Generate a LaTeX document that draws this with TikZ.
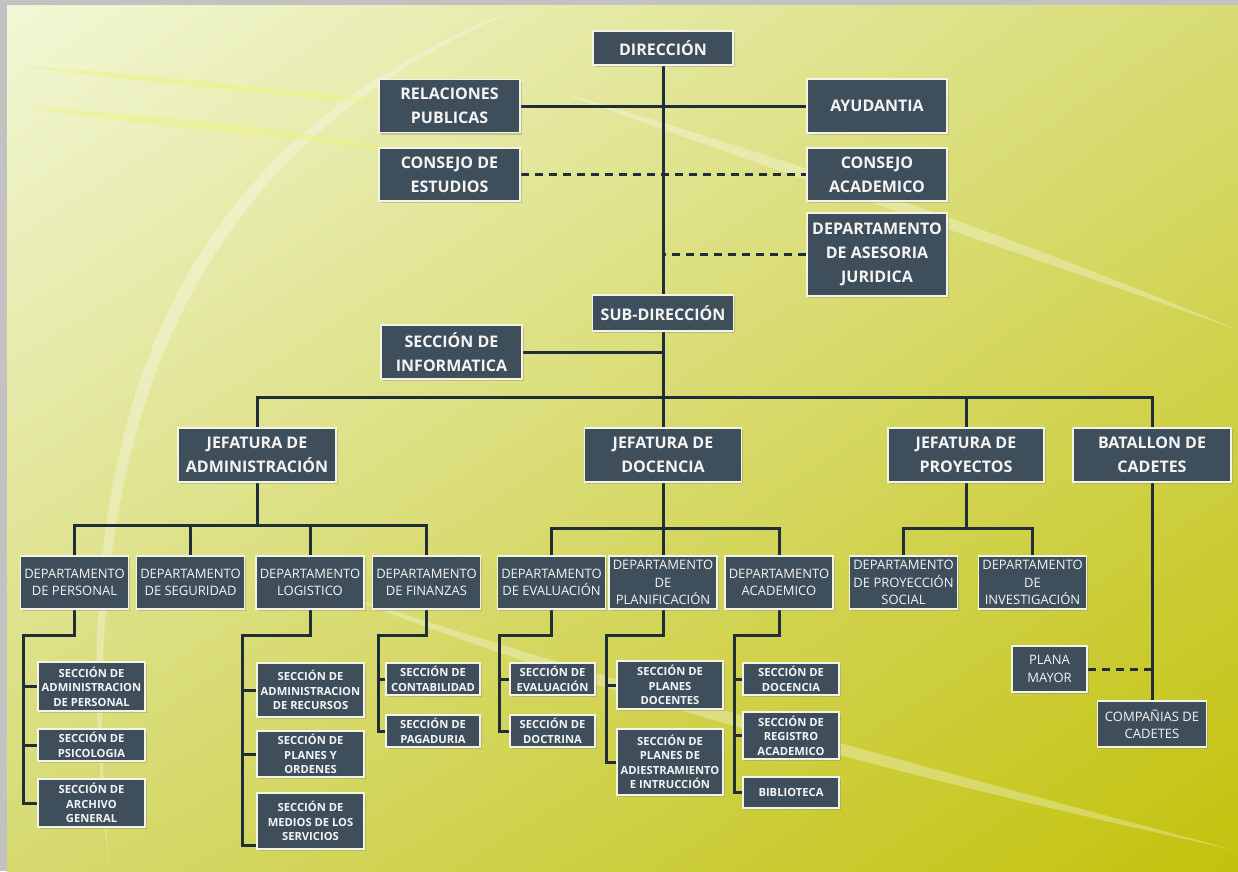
\documentclass[tikz,border=0pt]{standalone}
\usepackage{fontspec}
\setmainfont{Open Sans}
\usetikzlibrary{shadows, shadings, calc}

\definecolor{fondoA}{HTML}{F2F7D6}
\definecolor{fondoB}{HTML}{D8DC74}
\definecolor{fondoC}{HTML}{D6DA70}
\definecolor{fondoD}{HTML}{C3C20C}
\definecolor{marco}{HTML}{C2C2C2}
\definecolor{fondocaja}{HTML}{3E4F5B}
\definecolor{bordecaja}{HTML}{F4F4E6}
\definecolor{textocaja}{HTML}{F4F4F4}
\definecolor{colorlinea}{HTML}{1F2E39}
\definecolor{brillocolor}{HTML}{EEF47A}

\pgfdeclarelayer{fondo}
\pgfdeclarelayer{lineas}
\pgfsetlayers{fondo,lineas,main}

\tikzset{
  caja/.style={draw=bordecaja, line width=1.4pt, fill=fondocaja, text=textocaja,
    align=center, inner sep=0pt,
    drop shadow={shadow xshift=1.5pt, shadow yshift=-2pt, opacity=0.35}},
  jefe/.style={caja, minimum height=54pt, font=\fontsize{16}{24}\selectfont\bfseries},
  depto/.style={caja, minimum width=108pt, minimum height=53pt, font=\fontsize{13}{17.5}\selectfont},
  seccion/.style={caja, minimum width=107pt, font=\fontsize{11.2}{14.5}\selectfont\bfseries},
  linea/.style={draw=colorlinea, line width=3pt, line cap=rect},
  punteada/.style={draw=colorlinea, line width=3pt, dash pattern=on 8pt off 6pt},
  brillo/.style={fill=brillocolor, opacity=0.45},
  brilloclaro/.style={fill=white, opacity=0.3},
}

\begin{document}
\begin{tikzpicture}[x=1pt, y=-1pt]
  \useasboundingbox (0,0) rectangle (1238,871);

  % fondo
  \begin{pgfonlayer}{fondo}
    \fill[marco] (0,0) rectangle (1238,871);
    \shade[upper left=fondoA, upper right=fondoB, lower left=fondoC, lower right=fondoD]
      (7,5) rectangle (1238,871);
    \fill[brilloclaro] (520,8) .. controls (250,110) and (40,330) .. (110,871)
      .. controls (58,330) and (266,118) .. (520,8) -- cycle;
    \fill[brillo] (20,66) .. controls (150,74) and (280,88) .. (480,112)
      .. controls (280,96) and (150,84) .. (20,66) -- cycle;
    \fill[brillo] (20,107) .. controls (150,114) and (280,126) .. (460,160)
      .. controls (280,136) and (150,126) .. (20,107) -- cycle;
    \fill[brilloclaro] (560,92) .. controls (760,150) and (1000,230) .. (1238,330)
      .. controls (1000,246) and (760,166) .. (560,92) -- cycle;
    \fill[brilloclaro] (330,590) .. controls (600,680) and (900,760) .. (1234,850)
      .. controls (900,776) and (600,698) .. (330,590) -- cycle;
  \end{pgfonlayer}

  % direccion y asesores
  \node[jefe, minimum width=140pt, minimum height=34pt] (direccion) at (663,48) {DIRECCIÓN};
  \node[jefe, minimum width=141pt, minimum height=53pt] (relaciones) at (449.5,106) {RELACIONES\\PUBLICAS};
  \node[jefe, minimum width=140pt, minimum height=54pt] (ayudantia) at (877,106) {AYUDANTIA};
  \node[jefe, minimum width=141pt, minimum height=53pt] (cestudios) at (449.5,174.5) {CONSEJO DE\\ESTUDIOS};
  \node[jefe, minimum width=140pt, minimum height=53pt] (cacademico) at (877,174.5) {CONSEJO\\ACADEMICO};
  \node[jefe, minimum width=140pt, minimum height=83pt] (asesoria) at (877,254.5) {DEPARTAMENTO\\DE ASESORIA\\JURIDICA};
  \node[jefe, minimum width=141pt, minimum height=36pt] (subdir) at (663,313) {SUB-DIRECCIÓN};
  \node[jefe, minimum width=141pt, minimum height=54pt] (informatica) at (451.5,352) {SECCIÓN DE\\INFORMATICA};

  % jefaturas
  \node[jefe, minimum width=158pt] (jadmin) at (257,455) {JEFATURA DE\\ADMINISTRACIÓN};
  \node[jefe, minimum width=157pt] (jdocencia) at (663,455) {JEFATURA DE\\DOCENCIA};
  \node[jefe, minimum width=156pt] (jproyectos) at (966,455) {JEFATURA DE\\PROYECTOS};
  \node[jefe, minimum width=158pt] (batallon) at (1152,455) {BATALLON DE\\CADETES};

  % departamentos
  \node[depto] (dpersonal) at (74.5,582.5) {DEPARTAMENTO\\DE PERSONAL};
  \node[depto] (dseguridad) at (190.5,582.5) {DEPARTAMENTO\\DE SEGURIDAD};
  \node[depto] (dlogistico) at (310,582.5) {DEPARTAMENTO\\LOGISTICO};
  \node[depto] (dfinanzas) at (426.5,582.5) {DEPARTAMENTO\\DE FINANZAS};
  \node[depto] (devaluacion) at (551.5,582.5) {DEPARTAMENTO\\DE EVALUACIÓN};
  \node[depto] (dplanificacion) at (663,582.5) {DEPARTAMENTO\\DE\\PLANIFICACIÓN};
  \node[depto] (dacademico) at (779,582.5) {DEPARTAMENTO\\ACADEMICO};
  \node[depto] (dproyeccion) at (903.5,582.5) {DEPARTAMENTO\\DE PROYECCIÓN\\SOCIAL};
  \node[depto] (dinvestigacion) at (1032.5,582.5) {DEPARTAMENTO\\DE\\INVESTIGACIÓN};

  % secciones
  \node[seccion, minimum height=49pt] (sadmper) at (91.5,686.5) {SECCIÓN DE\\ADMINISTRACION\\DE PERSONAL};
  \node[seccion, minimum height=32pt] (spsicologia) at (91.5,745) {SECCIÓN DE\\PSICOLOGIA};
  \node[seccion, minimum height=48pt] (sarchivo) at (91.5,803) {SECCIÓN DE\\ARCHIVO\\GENERAL};
  \node[seccion, minimum height=54pt] (sadmrec) at (310.5,690) {SECCIÓN DE\\ADMINISTRACION\\DE RECURSOS};
  \node[seccion, minimum height=46pt] (splanes) at (310.5,754) {SECCIÓN DE\\PLANES Y\\ORDENES};
  \node[seccion, minimum height=56pt] (smedios) at (310.5,821) {SECCIÓN DE\\MEDIOS DE LOS\\SERVICIOS};
  \node[seccion, minimum width=94pt, minimum height=32pt] (scontab) at (433,679) {SECCIÓN DE\\CONTABILIDAD};
  \node[seccion, minimum width=94pt, minimum height=32pt] (spagad) at (433,731) {SECCIÓN DE\\PAGADURIA};
  \node[seccion, minimum width=85pt, minimum height=32pt] (seval) at (552.5,679) {SECCIÓN DE\\EVALUACIÓN};
  \node[seccion, minimum width=85pt, minimum height=32pt] (sdoctrina) at (552.5,731) {SECCIÓN DE\\DOCTRINA};
  \node[seccion, minimum width=106pt, minimum height=48pt] (splandoc) at (670,685) {SECCIÓN DE\\PLANES\\DOCENTES};
  \node[seccion, minimum width=106pt, minimum height=66pt] (sadiest) at (670,762) {SECCIÓN DE\\PLANES DE\\ADIESTRAMIENTO\\E INTRUCCIÓN};
  \node[seccion, minimum width=96pt, minimum height=32pt] (sdocencia) at (791,679) {SECCIÓN DE\\DOCENCIA};
  \node[seccion, minimum width=96pt, minimum height=47pt] (sregistro) at (791,735.5) {SECCIÓN DE\\REGISTRO\\ACADEMICO};
  \node[seccion, minimum width=96pt, minimum height=31pt] (sbiblioteca) at (791,792.5) {BIBLIOTECA};

  % batallon
  \node[depto, minimum width=75pt, minimum height=46pt] (plana) at (1049.5,669) {PLANA\\MAYOR};
  \node[depto, minimum width=109pt, minimum height=46pt] (companias) at (1152,724) {COMPAÑIAS DE\\CADETES};

  % conectores
  \begin{pgfonlayer}{lineas}
    \draw[linea] (direccion.south) -- (subdir.north);
    \draw[linea] (relaciones.east) -- (ayudantia.west);
    \draw[punteada] (cestudios.east) -- (cacademico.west);
    \draw[punteada] (asesoria.west) -- (asesoria.west -| direccion.south);
    \draw[linea] (informatica.east) -- (informatica.east -| subdir.south);
    \draw[linea] (subdir.south) -- (jdocencia.north);

    \coordinate (busjef) at (663,397);
    \draw[linea] (jadmin.north) |- (busjef) -| (batallon.north);
    \draw[linea] (jproyectos.north) -- (jproyectos.north |- busjef);

    \coordinate (busadm) at (257,525);
    \draw[linea] (jadmin.south) -- (busadm);
    \draw[linea] (dpersonal.north) |- (busadm) -| (dfinanzas.north);
    \draw[linea] (dseguridad.north) -- (dseguridad.north |- busadm);
    \draw[linea] (dlogistico.north) -- (dlogistico.north |- busadm);

    \coordinate (busdoc) at (663,528);
    \draw[linea] (jdocencia.south) -- (dplanificacion.north);
    \draw[linea] (devaluacion.north) |- (busdoc) -| (dacademico.north);

    \coordinate (buspro) at (966,528);
    \draw[linea] (jproyectos.south) -- (buspro);
    \draw[linea] (dproyeccion.north) |- (buspro) -| (dinvestigacion.north);

    \draw[linea] (batallon.south) -- (companias.north);
    \draw[punteada] (plana.east) -- (plana.east -| batallon.south);

    \coordinate (rpersonal) at (23,635);
    \draw[linea] (dpersonal.south) |- (rpersonal) |- (sarchivo.west);
    \draw[linea] (sadmper.west) -- (sadmper.west -| rpersonal);
    \draw[linea] (spsicologia.west) -- (spsicologia.west -| rpersonal);

    \coordinate (rlogistico) at (242,635);
    \draw[linea] (dlogistico.south) |- (rlogistico) |- ($(smedios.south west)+(0,-4)$);
    \draw[linea] (sadmrec.west) -- (sadmrec.west -| rlogistico);
    \draw[linea] (splanes.west) -- (splanes.west -| rlogistico);

    \coordinate (rfinanzas) at (378,635);
    \draw[linea] (dfinanzas.south) |- (rfinanzas) |- (spagad.west);
    \draw[linea] (scontab.west) -- (scontab.west -| rfinanzas);

    \coordinate (reval) at (499,635);
    \draw[linea] (devaluacion.south) |- (reval) |- (sdoctrina.west);
    \draw[linea] (seval.west) -- (seval.west -| reval);

    \coordinate (rplanif) at (606,635);
    \draw[linea] (dplanificacion.south) |- (rplanif) |- (sadiest.west);
    \draw[linea] (splandoc.west) -- (splandoc.west -| rplanif);

    \coordinate (racad) at (734,635);
    \draw[linea] (dacademico.south) |- (racad) |- (sbiblioteca.west);
    \draw[linea] (sdocencia.west) -- (sdocencia.west -| racad);
    \draw[linea] (sregistro.west) -- (sregistro.west -| racad);
  \end{pgfonlayer}
\end{tikzpicture}
\end{document}
